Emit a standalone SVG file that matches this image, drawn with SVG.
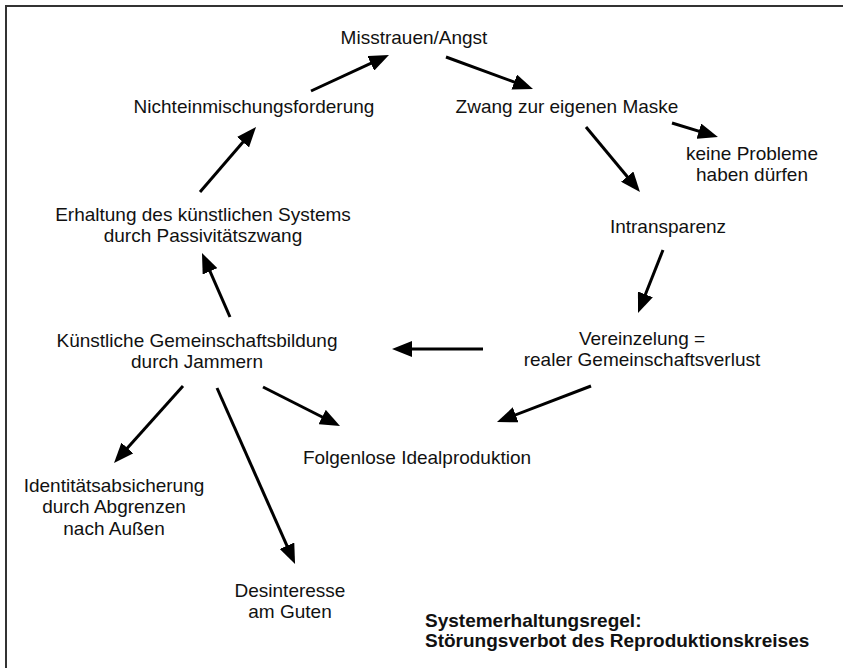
<svg xmlns="http://www.w3.org/2000/svg" width="843" height="668" viewBox="0 0 843 668">
<style>
text{font-family:"Liberation Sans",Arial,sans-serif;font-size:19px;fill:#111;text-anchor:middle}
.b{font-weight:bold;text-anchor:start;font-size:19px}
.c line{stroke:#000;stroke-width:3;marker-end:url(#ah)}
</style>
<defs>
<marker id="ah" markerUnits="userSpaceOnUse" viewBox="0 0 20 16" markerWidth="20" markerHeight="16" refX="10" refY="8" orient="auto">
<path d="M0,0 L20,8 L0,16 z" fill="#000"/>
</marker>
</defs>
<rect width="843" height="668" fill="#fff"/>
<path d="M6,668 V6 H843" fill="none" stroke="#333" stroke-width="2"/>
<g id="n-misstrauen"><text x="414" y="44">Misstrauen/Angst</text></g>
<g id="n-nicht"><text x="254" y="113">Nichteinmischungsforderung</text></g>
<g id="n-zwang"><text x="567" y="113">Zwang zur eigenen Maske</text></g>
<g id="n-keine"><text x="752" y="160">keine Probleme</text><text x="752" y="181">haben dürfen</text></g>
<g id="n-intrans"><text x="668" y="233">Intransparenz</text></g>
<g id="n-erhaltung"><text x="203" y="221">Erhaltung des künstlichen Systems</text><text x="203" y="242">durch Passivitätszwang</text></g>
<g id="n-kuenstlich"><text x="197" y="347">Künstliche Gemeinschaftsbildung</text><text x="197" y="368">durch Jammern</text></g>
<g id="n-verein"><text x="642" y="345">Vereinzelung =</text><text x="642" y="366">realer Gemeinschaftsverlust</text></g>
<g id="n-folgen"><text x="417" y="464">Folgenlose Idealproduktion</text></g>
<g id="n-ident"><text x="114" y="492">Identitätsabsicherung</text><text x="114" y="513">durch Abgrenzen</text><text x="114" y="535">nach Außen</text></g>
<g id="n-desint"><text x="290" y="597">Desinteresse</text><text x="290" y="618">am Guten</text></g>
<g id="n-regel"><text class="b" x="425" y="627">Systemerhaltungsregel:</text><text class="b" x="425" y="647">Störungsverbot des Reproduktionskreises</text></g>
<g class="c" id="connectors">
<line x1="311" y1="91" x2="379.9" y2="59.2"/>
<line x1="446" y1="57" x2="523.6" y2="85.5"/>
<line x1="672" y1="123" x2="708.4" y2="134.1"/>
<line x1="586" y1="127" x2="633.6" y2="184.3"/>
<line x1="663" y1="250" x2="641.7" y2="303.7"/>
<line x1="483" y1="349" x2="402" y2="349"/>
<line x1="591" y1="386" x2="506.3" y2="418.4"/>
<line x1="230" y1="317" x2="206" y2="262.2"/>
<line x1="200" y1="192" x2="249.5" y2="134.6"/>
<line x1="263" y1="387" x2="331.1" y2="421.5"/>
<line x1="183" y1="386" x2="120.7" y2="455.5"/>
<line x1="217" y1="388" x2="291" y2="554.9"/>
</g>
</svg>
